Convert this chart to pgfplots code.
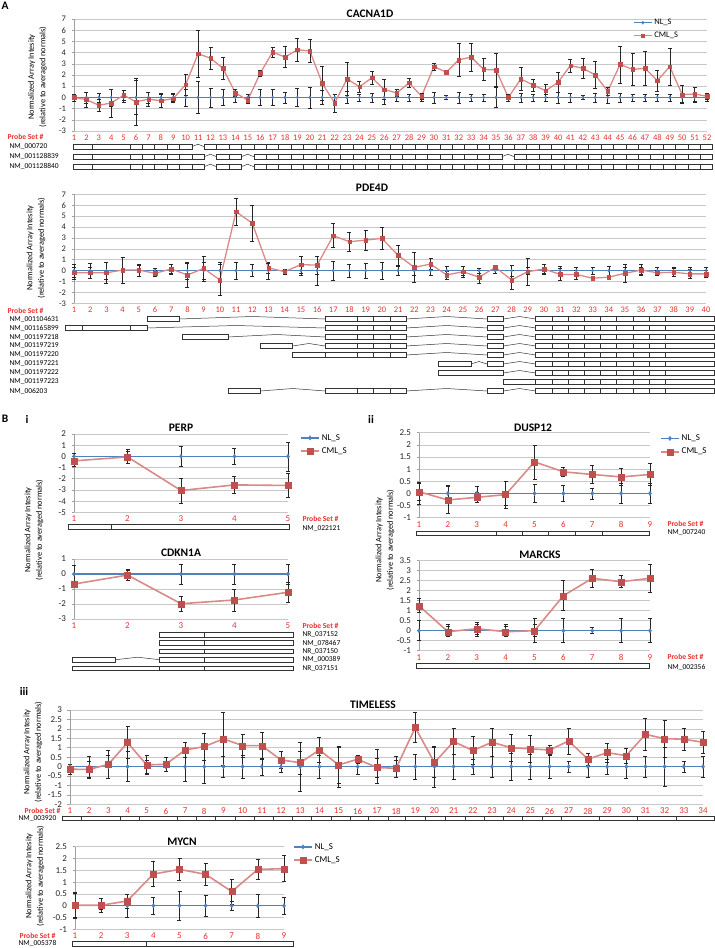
\documentclass[border=0pt]{standalone}
\usepackage{fontspec}
\setmainfont{Carlito}
\usepackage{pgfplots}
\usepackage{pgfplotstable}
\pgfplotsset{compat=1.18}

\definecolor{nlblue}{HTML}{4F81BD}
\definecolor{cmlred}{HTML}{C0504D}
\definecolor{cmlline}{HTML}{D98A88}
\definecolor{probered}{HTML}{E8312F}
\definecolor{gridgray}{HTML}{C8C8C8}
\definecolor{axgray}{HTML}{A0A0A0}

\newcommand\tickfont{\fontsize{8.5}{9}\selectfont}
\newcommand\btickfont{\fontsize{9}{10}\selectfont}
\newcommand\titlefont{\bfseries\fontsize{11.5}{12}\selectfont}
\newcommand\ylabfont{\fontsize{8.3}{11.5}\selectfont}
\newcommand\genefont{\fontsize{7.5}{8}\selectfont}
\newcommand\psfont{\bfseries\fontsize{7.6}{8}\selectfont}

% gene structure helpers (used inside a scope with x = probe spacing, y = -1pt)
\tikzset{gstroke/.style={draw=black!80, line width=0.6pt}}
\newcommand\gbox[3]{\draw[gstroke, fill=white] (#2,{#1-2.3}) rectangle (#3,{#1+2.3});}
\newcommand\gsep[2]{\foreach \s in {#2}{\draw[gstroke] (\s,{#1-2.3}) -- (\s,{#1+2.3});}}
\newcommand\gint[3]{\draw[draw=black!80, line width=0.5pt] (#2,#1) -- ({(#2+#3)/2},{#1-2.5}) -- (#3,#1);}
\newcommand\pdetail[1]{\gbox{#1}{16.5}{21.5}\gsep{#1}{18.5,19.5,20.5}\gint{#1}{21.5}{26.5}%
  \gbox{#1}{26.5}{27.5}\gint{#1}{27.5}{29.5}\gbox{#1}{29.5}{40.5}\gsep{#1}{30.5,31.5,...,37.5}}

\pgfplotsset{
  probe/.style={scale only axis, anchor=north west, clip=false,
    axis y line*=left, axis x line*=bottom,
    x axis line style={draw=none}, y axis line style={draw=axgray, line width=0.6pt},
    ymajorgrids, major grid style={draw=gridgray, line width=0.6pt},
    tick align=outside, major tick length=2.5pt,
    xtick style={draw=none}, ytick style={draw=axgray, line width=0.6pt},
    tick label style={font=\tickfont},
    xticklabel style={text=probered, anchor=north, inner sep=1pt},
    yticklabel style={text=black!85, xshift=-2pt},
    /pgf/number format/assume math mode=true,
    legend style={draw=none, fill=none, anchor=north west, font=\tickfont,
      inner sep=0pt, row sep=2pt, cells={anchor=west}},
    legend image code/.code={\draw[mark repeat=2,mark phase=2,##1] plot coordinates {(0pt,0pt)(9pt,0pt)(18pt,0pt)};},
  },
  bpanel/.style={probe, tick label style={font=\btickfont}, legend style={font=\btickfont}},
  ebar/.style={error bars/.cd, y dir=both, y explicit,
    error bar style={black!85, line width=0.5pt},
    error mark options={rotate=90, black!85, mark size=2pt, line width=0.5pt}},
  nlA/.style={color=nlblue, line width=1pt, mark=diamond*, mark size=1.6pt,
    mark options={fill=nlblue, draw=nlblue, line width=0.3pt}},
  cmlA/.style={color=cmlline, line width=1.3pt, mark=square*, mark size=1.8pt,
    mark options={fill=cmlred, draw=cmlred, line width=0.3pt}},
  nlB/.style={color=nlblue, line width=1.4pt, mark=diamond*, mark size=2.2pt,
    mark options={fill=nlblue, draw=nlblue, line width=0.3pt}},
  cmlB/.style={color=cmlline, line width=1.6pt, mark=square*, mark size=3pt,
    mark options={fill=cmlred, draw=cmlred, line width=0.3pt}},
}

% p = probe set, n = NL_S, ne = its error, c = CML_S, ce = its error
\pgfplotstableread{
p n ne c ce
1 0 0.3 0 0.3
2 0 0.5 -0.2 0.65
3 0 0.4 -0.7 0.55
4 0 0.75 -0.5 1.25
5 0 0.4 0.2 0.45
6 0 1.5 -0.4 2.1
7 0 0.5 -0.15 0.6
8 0 0.35 -0.3 0.6
9 0 0.35 -0.1 0.35
10 0 0.75 1.15 0.95
11 0 1.45 3.9 2.1
12 0 0.85 3.5 1.0
13 0 0.7 2.6 0.95
14 0 0.45 0.4 0.3
15 0 0.3 -0.25 0.3
16 0 0.7 2.15 0.3
17 0 0.7 4.05 0.45
18 0 0.5 3.6 0.95
19 0 0.8 4.25 1.05
20 0 0.95 4.15 1.05
21 0 0.65 1.25 1.5
22 0 0.3 -0.5 0.8
23 0 0.55 1.65 1.45
24 0 0.3 0.95 0.5
25 0 0.4 1.75 0.55
26 0 0.6 0.7 0.9
27 0 0.3 0.4 0.3
28 0 0.3 1.3 0.4
29 0 0.3 0.1 0.3
30 0 0.5 2.75 0.3
31 0 0.2 2.25 0.15
32 0 0.5 3.35 1.5
33 0 0.3 3.6 1.25
34 0 0.3 2.5 1.0
35 0 0.9 2.45 1.45
36 0 0.3 0.0 0.3
37 0 0.4 1.65 1.0
38 0 0.3 1.1 0.55
39 0 0.3 0.6 0.6
40 0 0.5 1.35 0.9
41 0 0.4 2.85 0.6
42 0 0.2 2.6 0.9
43 0 0.4 2.0 1.2
44 0 0.5 0.55 0.4
45 0 0.4 2.95 1.65
46 0 0.3 2.5 1.4
47 0 0.3 2.6 1.5
48 0 0.3 1.5 0.95
49 0 0.3 2.75 1.65
50 0 0.4 0.25 0.8
51 0 0.4 0.3 0.6
52 0 0.3 0.1 0.25
}\cacna

\pgfplotstableread{
p n ne c ce
1 0 0.6 -0.2 0.55
2 0 0.7 -0.2 0.5
3 0 0.8 -0.2 0.95
4 0 1.2 0.05 1.2
5 0 0.5 0.05 0.55
6 0 0.2 -0.25 0.3
7 0 0.3 0.15 0.4
8 0 0.8 -0.4 1.1
9 0 0.8 0.2 1.15
10 0 0.8 -0.85 1.4
11 0 0.75 5.4 1.25
12 0 0.55 4.35 1.65
13 0 0.8 0.25 0.45
14 0 0.1 -0.1 0.2
15 0 0.4 0.55 0.8
16 0 1.35 0.5 0.8
17 0 0.9 3.2 1.1
18 0 0.6 2.65 0.9
19 0 0.7 2.8 0.9
20 0 0.8 2.95 1.0
21 0 0.4 1.4 0.9
22 0 0.4 0.3 1.4
23 0 0.4 0.6 0.5
24 0 0.4 -0.4 0.35
25 0 0.4 -0.1 0.5
26 0 0.2 -0.6 0.6
27 0 0.2 0.3 0.2
28 0 0.5 -0.85 0.85
29 0 0.3 -0.1 1.2
30 0 0.3 0.15 0.4
31 0 0.4 -0.35 0.55
32 0 0.3 -0.35 0.4
33 0 0.3 -0.7 0.15
34 0 0.4 -0.6 0.2
35 0 0.3 -0.25 0.8
36 0 0.3 0.05 0.5
37 0 0.3 -0.2 0.25
38 0 0.3 -0.15 0.4
39 0 0.3 -0.3 0.4
40 0 0.3 -0.3 0.3
}\pdefour

\pgfplotstableread{
p n ne c ce
1 0 0.3 -0.4 0.45
2 0 0.6 -0.05 0.55
3 0 0.9 -3.05 1.1
4 0 0.7 -2.55 0.75
5 0 1.3 -2.6 1.05
}\perp

\pgfplotstableread{
p n ne c ce
1 0 0.6 -0.67 0.15
2 0 0.3 -0.07 0.35
3 0 0.65 -1.98 0.5
4 0 0.65 -1.73 0.72
5 0 0.65 -1.22 0.65
}\cdkn

\pgfplotstableread{
p n ne c ce
1 0 0.45 0.07 0.35
2 0 0.35 -0.27 0.55
3 0 0.3 -0.16 0.2
4 0 0.5 -0.05 0.55
5 0 0.38 1.3 0.7
6 0 0.33 0.89 0.17
7 0 0.22 0.78 0.38
8 0 0.4 0.68 0.35
9 0 0.4 0.78 0.45
}\dusp

\pgfplotstableread{
p n ne c ce
1 0 0.5 1.25 0.35
2 0 0.3 -0.05 0.25
3 0 0.3 0.1 0.3
4 0 0.3 -0.05 0.25
5 0 0.6 0.0 0.3
6 0 0.6 1.75 0.75
7 0 0.15 2.62 0.47
8 0 0.6 2.45 0.3
9 0 0.6 2.62 0.7
}\marcks

\pgfplotstableread{
p n ne c ce
1 0 0.12 -0.14 0.25
2 0 0.55 -0.15 0.45
3 0 0.6 0.12 0.75
4 0 0.8 1.27 0.85
5 0 0.35 0.09 0.5
6 0 0.25 0.12 0.35
7 0 0.8 0.88 0.4
8 0 0.9 1.06 0.7
9 0 0.55 1.47 1.4
10 0 0.6 1.11 0.6
11 0 0.45 1.11 0.7
12 0 0.3 0.35 0.45
13 0 1.3 0.21 0.6
14 0 0.6 0.88 0.67
15 0 1.1 0.09 0.95
16 0 0.4 0.39 0.22
17 0 0.9 -0.05 0.5
18 0 0.55 -0.09 0.45
19 0 0.65 2.07 0.8
20 0 1.1 0.21 0.8
21 0 0.65 1.33 0.7
22 0 0.4 0.85 0.75
23 0 0.55 1.29 0.75
24 0 0.7 1.0 0.7
25 0 0.65 0.94 0.7
26 0 0.6 0.88 0.25
27 0 0.3 1.36 0.68
28 0 0.55 0.39 0.3
29 0 0.4 0.74 0.5
30 0 0.6 0.58 0.4
31 0 0.55 1.71 0.85
32 0 1.05 1.48 1.0
33 0 0.3 1.45 0.6
34 0 0.55 1.29 0.6
}\timeless

\pgfplotstableread{
p n ne c ce
1 0 0.55 0.02 0.5
2 0 0.15 0.02 0.3
3 0 0.5 0.2 0.3
4 0 0.37 1.34 0.53
5 0 0.63 1.54 0.48
6 0 0.45 1.33 0.48
7 0 0.2 0.6 0.52
8 0 0.5 1.54 0.43
9 0 0.35 1.57 0.55
}\mycn

\begin{document}
\begin{tikzpicture}
\useasboundingbox (0pt,0pt) rectangle (715pt,-948pt);

% ---------------- A: CACNA1D ----------------
\begin{axis}[probe, at={(74pt,-19pt)}, width=633pt, height=112pt,
  xmin=1, xmax=52, ymin=-3, ymax=7, xtick={1,...,52}, ytick={-3,...,7},
  legend style={at={(0.883,1.018)}}]
\addplot[nlA, ebar] table[x=p, y=n, y error=ne] {\cacna};
\addlegendentry{NL\_S}
\addplot[cmlA, ebar] table[x=p, y=c, y error=ce] {\cacna};
\addlegendentry{CML\_S}
\end{axis}
\node[font=\titlefont] at (370pt,-14pt) {CACNA1D};
\node[rotate=90, align=center, font=\ylabfont] at (37.5pt,-77pt) {Normalized Array Intesity\\(relative to averaged normals)};
\node[anchor=west, font=\psfont, text=probered] at (4pt,-137pt) {Probe Set \#};
\begin{scope}[shift={({74pt-12.4pt},0pt)}, x=12.4pt, y=-1pt]
  \gbox{146.7}{0.95}{10.5}\gsep{146.7}{2.5,5.5,6.5,7.5,8.5,9.5}
  \gint{146.7}{10.5}{11.5}
  \gbox{146.7}{11.5}{52.5}\gsep{146.7}{12.5,13.5,...,51.5}
  \gbox{156.7}{0.95}{11.5}\gsep{156.7}{2.5,5.5,6.5,7.5,8.5,9.5,10.5}
  \gint{156.7}{11.5}{12.5}
  \gbox{156.7}{12.5}{14.5}\gsep{156.7}{13.5}
  \gint{156.7}{14.5}{15.5}
  \gbox{156.7}{15.5}{35.5}\gsep{156.7}{16.5,17.5,...,34.5}
  \gint{156.7}{35.5}{36.5}
  \gbox{156.7}{36.5}{52.5}\gsep{156.7}{37.5,38.5,...,51.5}
  \gbox{166.7}{0.95}{11.5}\gsep{166.7}{2.5,5.5,6.5,7.5,8.5,9.5,10.5}
  \gint{166.7}{11.5}{12.5}
  \gbox{166.7}{12.5}{14.5}\gsep{166.7}{13.5}
  \gint{166.7}{14.5}{15.5}
  \gbox{166.7}{15.5}{52.5}\gsep{166.7}{16.5,17.5,...,51.5}
\end{scope}
\node[anchor=west, font=\genefont] at (6pt,-146.7pt) {NM\_000720};
\node[anchor=west, font=\genefont] at (6pt,-156.7pt) {NM\_001128839};
\node[anchor=west, font=\genefont] at (6pt,-166.7pt) {NM\_001128840};

% ---------------- A: PDE4D ----------------
\begin{axis}[probe, at={(74pt,-194.3pt)}, width=632pt, height=109pt,
  xmin=1, xmax=40, ymin=-3, ymax=7, xtick={1,...,40}, ytick={-3,...,7}]
\addplot[nlA, ebar] table[x=p, y=n, y error=ne] {\pdefour};
\addplot[cmlA, ebar] table[x=p, y=c, y error=ce] {\pdefour};
\end{axis}
\node[font=\titlefont] at (372pt,-188pt) {PDE4D};
\node[rotate=90, align=center, font=\ylabfont] at (36pt,-248pt) {Normalized Array Intesity\\(relative to averaged normals)};
\node[anchor=west, font=\psfont, text=probered] at (4pt,-311pt) {Probe Set \#};
\begin{scope}[shift={({74pt-16.2pt},0pt)}, x=16.2pt, y=-1pt]
  \gbox{319}{5.5}{7.5}\gint{319}{7.5}{16.5}\pdetail{319}
  \gbox{328}{0.45}{5.5}\gsep{328}{1.5,4.5}\gint{328}{5.5}{16.5}\pdetail{328}
  \gbox{337}{7.7}{10.5}\gint{337}{10.5}{16.5}\pdetail{337}
  \gbox{346}{12.5}{14.5}\gint{346}{14.5}{16.5}\pdetail{346}
  \gbox{355}{14.5}{16.5}\pdetail{355}
  \gbox{364}{23.5}{25.5}\gint{364}{25.5}{26.5}\gbox{364}{26.5}{27.5}\gint{364}{27.5}{29.5}%
  \gbox{364}{29.5}{40.5}\gsep{364}{30.5,31.5,...,37.5}
  \gbox{373}{23.5}{27.5}\gint{373}{27.5}{29.5}\gbox{373}{29.5}{40.5}\gsep{373}{30.5,31.5,...,37.5}
  \gbox{382}{27.5}{40.5}\gsep{382}{29.5,30.5,...,37.5}
  \gbox{391}{10.5}{12.5}\gint{391}{12.5}{16.5}\pdetail{391}
\end{scope}
\foreach \nm [count=\k from 0] in {NM\_001104631,NM\_001165899,NM\_001197218,NM\_001197219,NM\_001197220,NM\_001197221,NM\_001197222,NM\_001197223,NM\_006203}
  \node[anchor=west, font=\genefont] at (6pt,{-319pt-9pt*\k}) {\nm};

% ---------------- section labels ----------------
\node[font=\titlefont] at (5pt,-6pt) {A};
\node[font=\titlefont] at (5pt,-419pt) {B};
\node[font=\titlefont] at (27pt,-419pt) {i};
\node[font=\titlefont] at (371pt,-419pt) {ii};
\node[font=\titlefont] at (24pt,-691pt) {iii};

% ---------------- B i: PERP ----------------
\begin{axis}[bpanel, at={(74pt,-434pt)}, width=214pt, height=78.3pt,
  xmin=1, xmax=5, ymin=-5, ymax=2, xtick={1,...,5}, ytick={-5,...,2},
  legend style={at={(1.056,1.026)}}]
\addplot[nlB, ebar] table[x=p, y=n, y error=ne] {\perp};
\addlegendentry{NL\_S}
\addplot[cmlB, ebar] table[x=p, y=c, y error=ce] {\perp};
\addlegendentry{CML\_S}
\end{axis}
\node[font=\titlefont] at (181pt,-428pt) {PERP};
\node[anchor=west, font=\psfont, text=probered] at (299pt,-519pt) {Probe Set \#};
\begin{scope}[shift={({74pt-53.5pt},0pt)}, x=53.5pt, y=-1pt]
  \gbox{527}{0.89}{5.02}\gsep{527}{1.69}
\end{scope}
\node[anchor=west, font=\genefont] at (299pt,-529pt) {NM\_022121};

% ---------------- B i: CDKN1A ----------------
\begin{axis}[bpanel, at={(74pt,-559pt)}, width=214pt, height=60pt,
  xmin=1, xmax=5, ymin=-3, ymax=1, xtick={1,...,5}, ytick={-3,...,1}]
\addplot[nlB, ebar] table[x=p, y=n, y error=ne] {\cdkn};
\addplot[cmlB, ebar] table[x=p, y=c, y error=ce] {\cdkn};
\end{axis}
\node[font=\titlefont] at (181pt,-553pt) {CDKN1A};
\node[rotate=90, align=center, font=\ylabfont] at (34pt,-530pt) {Normalized Array Intesity\\(relative to averaged normals)};
\node[anchor=west, font=\psfont, text=probered] at (299pt,-626pt) {Probe Set \#};
\begin{scope}[shift={({74pt-53.5pt},0pt)}, x=53.5pt, y=-1pt]
  \gbox{634.7}{2.6}{5.09}\gsep{634.7}{3.43}
  \gbox{643}{2.6}{5.09}\gsep{643}{3.43}
  \gbox{651.3}{2.6}{5.09}\gsep{651.3}{3.43}
  \gbox{659.7}{0.96}{1.78}\gint{659.7}{1.78}{2.6}\gbox{659.7}{2.6}{5.09}\gsep{659.7}{3.43}
  \gbox{668.3}{0.96}{5.09}\gsep{668.3}{2.6,3.43}
\end{scope}
\node[anchor=west, font=\genefont] at (299pt,-634.7pt) {NR\_037152};
\node[anchor=west, font=\genefont] at (299pt,-643pt) {NM\_078467};
\node[anchor=west, font=\genefont] at (299pt,-651.3pt) {NR\_037150};
\node[anchor=west, font=\genefont] at (299pt,-659.7pt) {NM\_000389};
\node[anchor=west, font=\genefont] at (299pt,-668.3pt) {NR\_037151};

% ---------------- B ii: DUSP12 ----------------
\begin{axis}[bpanel, at={(419pt,-432.7pt)}, width=231pt, height=85pt,
  xmin=1, xmax=9, ymin=-1, ymax=2.5, xtick={1,...,9}, ytick={-1,-0.5,...,2.5},
  legend style={at={(1.043,1.002)}}]
\addplot[nlB, ebar] table[x=p, y=n, y error=ne] {\dusp};
\addlegendentry{NL\_S}
\addplot[cmlB, ebar] table[x=p, y=c, y error=ce] {\dusp};
\addlegendentry{CML\_S}
\end{axis}
\node[font=\titlefont] at (533pt,-428pt) {DUSP12};
\node[anchor=west, font=\psfont, text=probered] at (664pt,-524pt) {Probe Set \#};
\begin{scope}[shift={({419pt-28.85pt},0pt)}, x=28.85pt, y=-1pt]
  \gbox{533.3}{0.92}{8.98}\gsep{533.3}{3.69,4.57,5.49,6.42,7.34}
\end{scope}
\node[anchor=west, font=\genefont] at (664pt,-533pt) {NM\_007240};

% ---------------- B ii: MARCKS ----------------
\begin{axis}[bpanel, at={(419pt,-560.7pt)}, width=231pt, height=90pt,
  xmin=1, xmax=9, ymin=-1, ymax=3.5, xtick={1,...,9}, ytick={-1,-0.5,...,3.5}]
\addplot[nlB, ebar] table[x=p, y=n, y error=ne] {\marcks};
\addplot[cmlB, ebar] table[x=p, y=c, y error=ce] {\marcks};
\end{axis}
\node[font=\titlefont] at (540pt,-555pt) {MARCKS};
\node[rotate=90, align=center, font=\ylabfont] at (385pt,-540pt) {Normalized Array Intesity\\(relative to averaged normals)};
\node[anchor=west, font=\psfont, text=probered] at (664pt,-657pt) {Probe Set \#};
\begin{scope}[shift={({419pt-28.85pt},0pt)}, x=28.85pt, y=-1pt]
  \gbox{666}{0.92}{8.98}
\end{scope}
\node[anchor=west, font=\genefont] at (664pt,-667pt) {NM\_002356};

% ---------------- B iii: TIMELESS ----------------
\begin{axis}[bpanel, at={(70pt,-710pt)}, width=633pt, height=94.3pt,
  xmin=1, xmax=34, ymin=-2, ymax=3, xtick={1,...,34}, ytick={-2,-1.5,...,3}]
\addplot[nlB, ebar] table[x=p, y=n, y error=ne] {\timeless};
\addplot[cmlB, ebar] table[x=p, y=c, y error=ce] {\timeless};
\end{axis}
\node[font=\titlefont] at (373pt,-705pt) {TIMELESS};
\node[rotate=90, align=center, font=\ylabfont] at (33pt,-752pt) {Normalized Array Intesity\\(relative to averaged normals)};
\node[anchor=east, font=\psfont, text=probered] at (64pt,-811pt) {Probe Set \#};
\begin{scope}[shift={({70pt-19.18pt},0pt)}, x=19.18pt, y=-1pt]
  \gbox{818.3}{0.62}{34.6}
  \gsep{818.3}{1.6,3.6,4.6,6.6,7.6,8.6,9.6,10.6,11.6,12.6,13.6,14.6,15.6,16.55,17.6,18.5,19.55,20.55,21.6,22.6,23.6,24.6,25.6,26.6,28.6,30.6,32.6}
\end{scope}
\node[anchor=west, font=\genefont] at (15pt,-819pt) {NM\_003920};

% ---------------- B iii: MYCN ----------------
\begin{axis}[bpanel, at={(75pt,-846.7pt)}, width=209pt, height=82.6pt,
  xmin=1, xmax=9, ymin=-1, ymax=2.5, xtick={1,...,9}, ytick={-1,-0.5,...,2.5},
  legend style={at={(1.043,1.069)}}]
\addplot[nlB, ebar] table[x=p, y=n, y error=ne] {\mycn};
\addlegendentry{NL\_S}
\addplot[cmlB, ebar] table[x=p, y=c, y error=ce] {\mycn};
\addlegendentry{CML\_S}
\end{axis}
\node[font=\titlefont] at (182pt,-842pt) {MYCN};
\begin{scope}
  \clip (0pt,-826pt) rectangle (60pt,-930pt);
  \node[rotate=90, align=center, font=\ylabfont] at (35pt,-876pt) {Normalized Array Intesity\\(relative to averaged normals)};
\end{scope}
\node[anchor=west, font=\psfont, text=probered] at (16pt,-936pt) {Probe Set \#};
\begin{scope}[shift={({75pt-26.1pt},0pt)}, x=26.1pt, y=-1pt]
  \gbox{944}{0.91}{9.36}\gsep{944}{3.75}
\end{scope}
\node[anchor=west, font=\genefont] at (15pt,-943.5pt) {NM\_005378};
\end{tikzpicture}
\end{document}
